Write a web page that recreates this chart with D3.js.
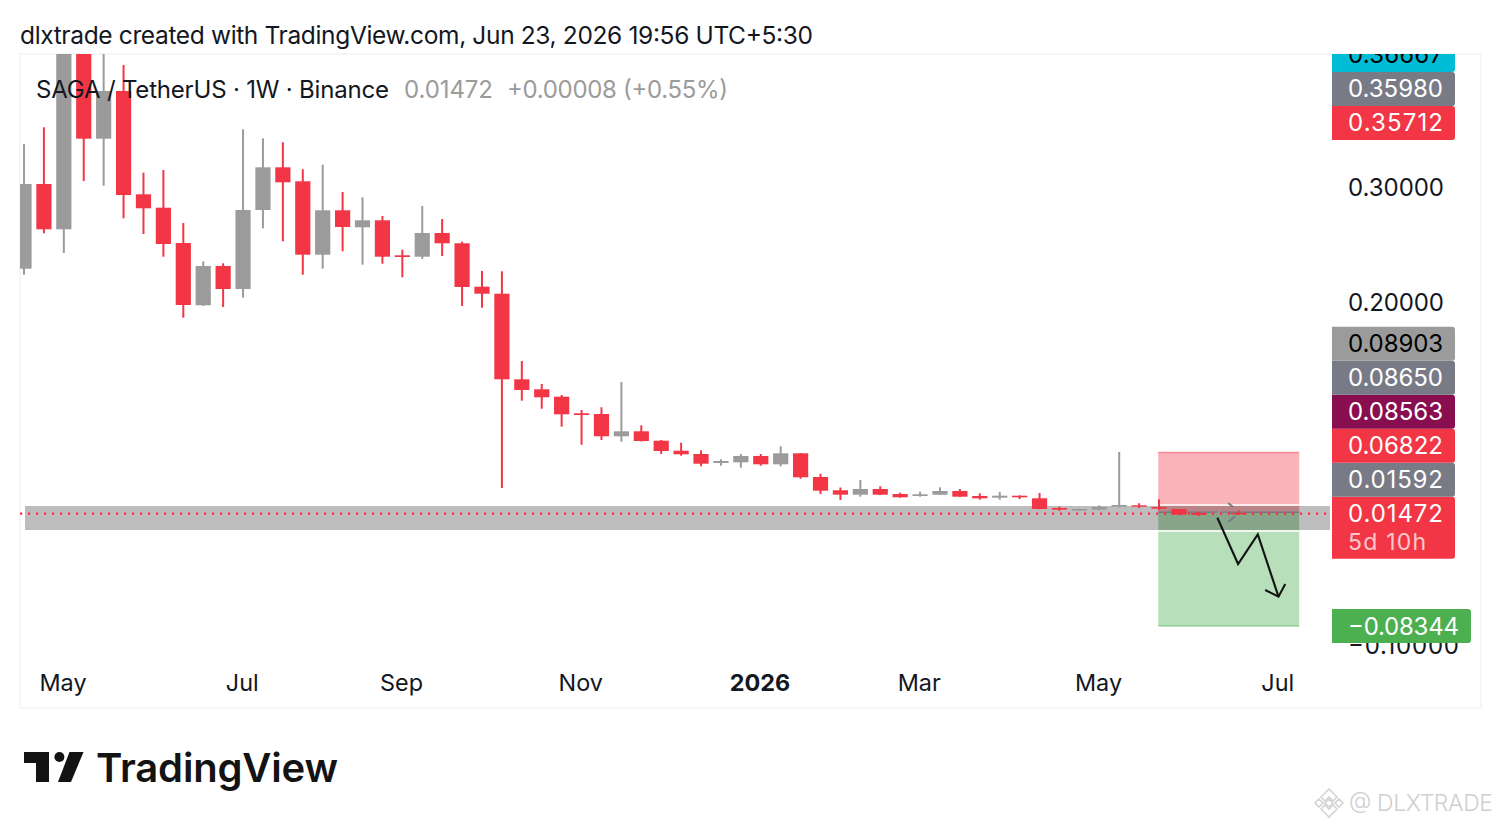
<!DOCTYPE html>
<html><head><meta charset="utf-8">
<script src="https://cdn.jsdelivr.net/npm/d3@7"></script>
<style>
html,body{margin:0;padding:0;background:#fff}
svg{display:block}
text{font-family:Inter,"Noto Sans",sans-serif;fill:#131722}
</style></head><body><div id="c"></div>
<script>
// Weekly candles, week 0 = 21 Apr 2025 (prices)
const opens=[.22865,.30262,.26306,.43000,.34218,.38384,.29362,.28192,.25109,.19668,.23100,.21092,.27991,.31720,.30498,.24087,.27965,.26480,.27092,.24035,.23913,.25982,.25083,.21292,.20681,.13205,.12332,.11686,.10236,.10175,.08227,.08664,.07843,.06969,.06681,.05895,.05956,.06507,.05782,.06742,.04672,.03511,.03127,.03624,.03188,.03013,.03127,.03450,.03013,.02865,.03039,.02812,.01965,.01729,.01817,.02079,.02201,.02052,.01878,.01528,.01441,.01530];
const highs=[.33755,.35214,.45458,.47000,.44586,.40655,.31249,.31485,.26856,.23511,.23336,.35039,.34253,.33904,.31546,.31948,.29563,.29100,.27467,.24524,.28341,.27205,.25223,.22664,.22638,.14803,.12795,.11834,.10524,.10760,.12969,.09188,.07904,.07668,.07004,.06218,.06681,.06681,.07354,.06769,.04961,.03755,.04410,.03860,.03301,.03389,.03773,.03624,.03249,.03362,.03074,.03275,.02079,.01904,.02201,.06856,.02376,.02725,.01878,.01642,.01729,.01747];
const lows=[.22341,.25956,.24236,.30524,.30113,.27266,.25895,.23913,.18585,.19607,.19520,.20332,.26393,.25258,.22341,.22865,.24384,.23214,.23301,.22113,.23712,.23974,.19607,.19459,.03712,.11336,.10638,.09065,.07493,.07904,.07755,.07773,.06681,.06533,.05607,.05659,.05485,.05659,.05607,.04524,.03188,.02664,.02952,.03100,.02865,.02952,.03100,.02926,.02690,.02690,.02751,.01852,.01703,.01703,.01764,.01991,.01965,.01790,.01327,.01266,.01380,.01397];
const closes=[.30262,.26306,.43712,.34218,.38384,.29301,.28140,.25022,.19694,.23100,.21092,.27991,.31720,.30410,.24087,.27965,.26506,.27092,.23913,.23886,.25982,.25083,.21266,.20681,.13205,.12271,.11633,.10148,.10087,.08227,.08664,.07817,.06943,.06655,.05834,.06070,.06507,.05782,.06742,.04646,.03476,.03127,.03624,.03127,.02900,.03162,.03450,.02952,.02812,.03039,.02900,.01878,.01817,.01878,.02052,.02227,.02079,.01904,.01380,.01354,.01555,.01472];

const monthWeeks=[2,11,19,28,37,45,54,63];
const monthLabels=["May","Jul","Sep","Nov","2026","Mar","May","Jul"];
const priceTicks=[0.30,0.20,-0.10];

const lastClose=0.01472;
const entryPrice=0.01592, stopPrice=0.06822, targetPrice=-0.08344;
const toolWeeks=[56.96,64.04];
const bandPrices=[0.02140,0.00044];
const bandWeeks=[0.05,65.6];
const arrowWeeks=[59.93,60.97,61.96,63.0];
const arrowPrices=[0.01118,-0.02926,-0.00332,-0.05782];
const headWeeks=[62.33,63.0,63.34];
const headPrices=[-0.05197,-0.05782,-0.04672];
const tickPairs=[[[60.47,.02402],[60.72,.02052]],[[60.83,.01266],[60.47,.00742]]];

const axisLabels=[
 {v:0.36667,t:"0.36667",bg:"#00bcd4",fg:"#000"},
 {v:0.35980,t:"0.35980",bg:"#787b86",fg:"#fff"},
 {v:0.35712,t:"0.35712",bg:"#f23645",fg:"#fff"},
 {v:0.08903,t:"0.08903",bg:"#9b9b9b",fg:"#000"},
 {v:0.08650,t:"0.08650",bg:"#787b86",fg:"#fff"},
 {v:0.08563,t:"0.08563",bg:"#880e4f",fg:"#fff"},
 {v:0.06822,t:"0.06822",bg:"#f23645",fg:"#fff"},
 {v:0.01592,t:"0.01592",bg:"#787b86",fg:"#fff"}
];
const RED="#f23645",GRAY="#9b9b9b",W=1501,H=828;

const svg=d3.select("#c").append("svg").attr("width",W).attr("height",H);
const x=d3.scaleLinear().domain([0,63]).range([24,1278.5]);
const y=d3.scaleLinear().domain([0.30,-0.10]).range([187,645]);

svg.append("text").attr("x",20).attr("y",44).attr("font-size",24.5).attr("textLength",793)
  .attr("lengthAdjust","spacing").text("dlxtrade created with TradingView.com, Jun 23, 2026 19:56 UTC+5:30");
svg.append("rect").attr("x",20).attr("y",54).attr("width",1461).attr("height",654)
  .attr("fill","none").attr("stroke","#f3f4f6").attr("stroke-width",1.5);

const defs=svg.append("defs");
defs.append("clipPath").attr("id","plot").append("rect").attr("x",20).attr("y",54).attr("width",1310).attr("height",608);
defs.append("clipPath").attr("id","scale").append("rect").attr("x",1330).attr("y",54).attr("width",151).attr("height",654);
const plot=svg.append("g").attr("clip-path","url(#plot)");

// position tool
const tx0=x(toolWeeks[0]),tw=x(toolWeeks[1])-x(toolWeeks[0]);
plot.append("rect").attr("x",tx0).attr("width",tw).attr("y",y(stopPrice)).attr("height",y(entryPrice)-y(stopPrice)).attr("fill",RED).attr("fill-opacity",.38);
plot.append("rect").attr("x",tx0).attr("width",tw).attr("y",y(entryPrice)).attr("height",y(targetPrice)-y(entryPrice)).attr("fill","#4caf50").attr("fill-opacity",.4);
[[stopPrice,RED],[targetPrice,"#4caf50"]].forEach(([p,c])=>plot.append("line").attr("x1",tx0).attr("x2",tx0+tw).attr("y1",y(p)).attr("y2",y(p)).attr("stroke",c).attr("stroke-opacity",.45).attr("stroke-width",1.5));

// grey zone
plot.append("rect").attr("x",x(bandWeeks[0])).attr("width",x(bandWeeks[1])-x(bandWeeks[0]))
  .attr("y",y(bandPrices[0])).attr("height",y(bandPrices[1])-y(bandPrices[0])).attr("fill","#000").attr("fill-opacity",.26);
bandPrices.forEach(p=>plot.append("line").attr("x1",tx0).attr("x2",tx0+tw).attr("y1",y(p)+(p>0.01?-1:1)).attr("y2",y(p)+(p>0.01?-1:1)).attr("stroke","#fff").attr("stroke-opacity",.75).attr("stroke-width",1.8));
plot.append("line").attr("x1",tx0).attr("x2",tx0+tw).attr("y1",y(entryPrice)).attr("y2",y(entryPrice)).attr("stroke","#787b86").attr("stroke-width",1.5);

// candles
const idx=d3.range(opens.length);
const col=i=>closes[i]>=opens[i]?GRAY:RED;
plot.selectAll("line.w").data(idx).join("line").attr("class","w")
  .attr("x1",x).attr("x2",x).attr("y1",i=>y(highs[i])).attr("y2",i=>y(lows[i]))
  .attr("stroke",col).attr("stroke-width",2);
plot.selectAll("rect.b").data(idx).join("rect").attr("class","b")
  .attr("x",i=>x(i)-7.6).attr("width",15.2)
  .attr("y",i=>y(Math.max(opens[i],closes[i])))
  .attr("height",i=>Math.max(1.4,Math.abs(y(opens[i])-y(closes[i]))))
  .attr("fill",col);

// last price line
plot.append("line").attr("x1",20).attr("x2",1330).attr("y1",y(lastClose)).attr("y2",y(lastClose))
  .attr("stroke","#f5303f").attr("stroke-width",2.2).attr("stroke-dasharray","2.2 5.8");

// drawings
const ln=d3.line().x(d=>x(d[0])).y(d=>y(d[1]));
tickPairs.forEach(p=>plot.append("path").attr("d",ln(p)).attr("fill","none").attr("stroke","#787b86").attr("stroke-width",2));
[[arrowWeeks,arrowPrices],[headWeeks,headPrices]].forEach(([a,b])=>
  plot.append("path").attr("d",ln(a.map((w,i)=>[w,b[i]]))).attr("fill","none").attr("stroke","#131313").attr("stroke-width",2.1).attr("stroke-linejoin","miter"));

// legend
plot.append("text").attr("x",36).attr("y",98).attr("font-size",24).attr("textLength",353).attr("lengthAdjust","spacing").text("SAGA / TetherUS · 1W · Binance");
plot.append("text").attr("x",404).attr("y",98).attr("font-size",24).attr("textLength",89).attr("lengthAdjust","spacing").style("fill","#9b9b9b").text("0.01472");
plot.append("text").attr("x",507).attr("y",98).attr("font-size",24).attr("textLength",221).attr("lengthAdjust","spacing").style("fill","#9b9b9b").text("+0.00008 (+0.55%)");

// axes
const yAxis=svg.append("g").attr("transform","translate(1348,1)")
  .call(d3.axisRight(y).tickValues(priceTicks).tickSize(0).tickPadding(0).tickFormat(d=>d3.format(".5f")(d).replace("-","\u2212")));
yAxis.select(".domain").remove();
yAxis.selectAll("text").attr("font-size",24).attr("textLength",96).attr("lengthAdjust","spacing").style("fill","#131722").attr("font-family",null);
yAxis.selectAll("text").filter(d=>d<0).attr("textLength",111);

const xAxis=svg.append("g").attr("transform","translate(-1.3,674)")
  .call(d3.axisBottom(x).tickValues(monthWeeks).tickSize(0).tickPadding(0).tickFormat((d,i)=>monthLabels[i]));
xAxis.select(".domain").remove();
xAxis.selectAll("text").attr("font-size",23.4).attr("font-family",null).style("fill","#131722")
  .attr("font-weight",(d,i)=>monthLabels[i]==="2026"?700:400);

// price labels, stacked the way the price scale stacks them
const LH=34, sc=svg.append("g").attr("clip-path","url(#scale)");
function drawLabel(cy,d,h,w){
  const top=cy-17;
  sc.append("path").attr("d",`M1332 ${top}H${1332+w-3}a3 3 0 0 1 3 3V${top+h-3}a3 3 0 0 1 -3 3H1332Z`).attr("fill",d.bg);
  sc.append("text").attr("x",1348).attr("y",cy+8.5).attr("font-size",24).attr("textLength",d.t.length>7?111:95).attr("lengthAdjust","spacing").style("fill",d.fg).text(d.t);
}
drawLabel(y(targetPrice),{t:"\u22120.08344",bg:"#4caf50",fg:"#fff"},LH,139);
const lastCy=y(lastClose);
drawLabel(lastCy,{t:"0.01472",bg:RED,fg:"#fff"},62,123);
sc.append("text").attr("x",1348).attr("y",lastCy+36).attr("font-size",23).attr("textLength",78).attr("lengthAdjust","spacing").style("fill","#fff").style("opacity",.72).text("5d 10h");
let prev=lastCy;
[...axisLabels].reverse().forEach(d=>{
  const c=Math.min(y(d.v)+(d.v>0.3?1.3:0),prev-LH);
  drawLabel(c,d,LH,123);prev=c;
});

// TradingView logo
const logo=svg.append("g").attr("fill","#131313");
logo.append("path").attr("d","M24 752H49V782H36V763H24Z");
logo.append("circle").attr("cx",59.4).attr("cy",757).attr("r",5);
logo.append("path").attr("d","M69.5 752H83.5L71 782H58Z");
svg.append("text").attr("x",96).attr("y",782).attr("font-size",40).attr("font-weight",600).attr("textLength",242).attr("lengthAdjust","spacing").style("fill","#131313").text("TradingView");

// watermark
const wm=svg.append("g").attr("fill","none").attr("stroke","#d4d4d4").attr("stroke-width",1.6);
wm.append("path").attr("d","M1329 789L1337 797L1333 801L1329 797L1325 801L1321 797Z");
wm.append("path").attr("d","M1319 799L1323 803L1319 807L1315 803ZM1339 799L1343 803L1339 807L1335 803ZM1329 799L1333 803L1329 807L1325 803Z");
wm.append("path").attr("d","M1321 809L1325 805L1329 809L1333 805L1337 809L1329 817Z");
svg.append("text").attr("x",1349).attr("y",811).attr("font-size",23).attr("font-weight",300).attr("textLength",144).attr("lengthAdjust","spacing").style("fill","#cfcfcf").text("@ DLXTRADE");
</script></body></html>
